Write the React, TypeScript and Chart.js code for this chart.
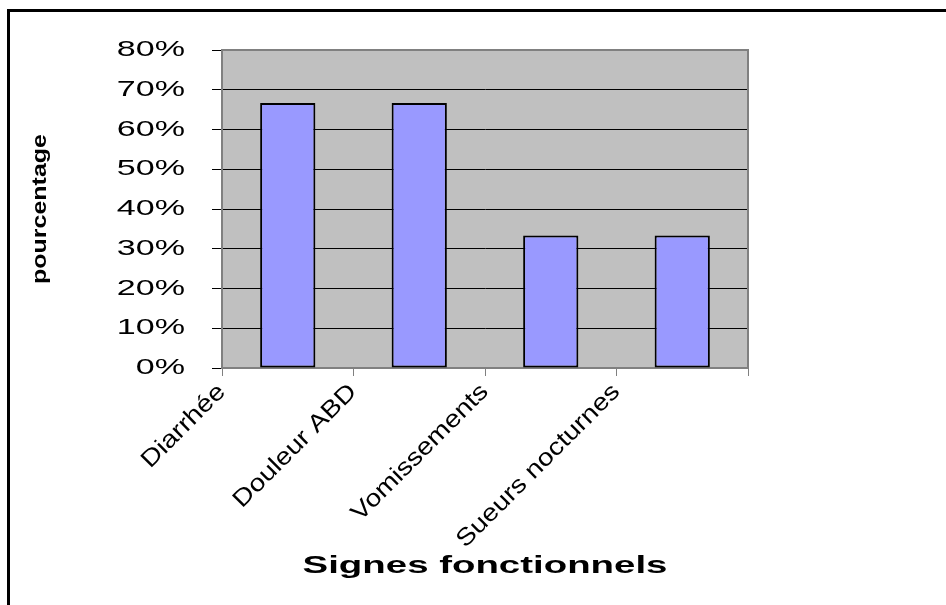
import React, { useEffect, useRef } from 'react';
import { Chart, registerables } from 'chart.js';

Chart.register(...registerables);

const categories = ['Diarrhée', 'Douleur ABD', 'Vomissements', 'Sueurs nocturnes'];
const percentages = [0.6667, 0.6667, 0.3333, 0.3333];
const yMin = 0;
const yMax = 0.8;
const yStep = 0.1;
const yAxisTitle = 'pourcentage';
const xAxisTitle = 'Signes fonctionnels';

const FONT = "'Liberation Sans', Arial, Helvetica, sans-serif";

// Excel-like wide text rendering: stretch glyphs along their baseline
function stretchText(ctx: CanvasRenderingContext2D) {
  const orig = ctx.fillText.bind(ctx);
  (ctx as any).fillText = (text: string, x: number, y: number) => {
    const m = ctx.getTransform();
    let sx: number;
    if (Math.abs(m.b) < 0.01) sx = ctx.font.includes('bold') ? 1.6 : 1.55;
    else if (Math.abs(m.a) < 0.01) sx = 1.19;
    else sx = 1.17;
    ctx.save();
    ctx.translate(x, y);
    ctx.scale(sx, 1);
    orig(text, 0, 0);
    ctx.restore();
  };
}

const plotAreaPlugin = {
  id: 'plotArea',
  beforeDraw(chart: any) {
    const { ctx, chartArea } = chart;
    ctx.save();
    ctx.fillStyle = '#C0C0C0';
    ctx.fillRect(chartArea.left, chartArea.top, chartArea.right - chartArea.left, chartArea.bottom - chartArea.top);
    ctx.restore();
  },
  beforeDatasetsDraw(chart: any) {
    const { ctx, chartArea } = chart;
    ctx.save();
    ctx.strokeStyle = '#808080';
    ctx.lineWidth = 2;
    ctx.strokeRect(chartArea.left, chartArea.top, chartArea.right - chartArea.left, chartArea.bottom - chartArea.top);
    ctx.restore();
  },
};

export default function App() {
  const ref = useRef<HTMLCanvasElement | null>(null);

  useEffect(() => {
    const canvas = ref.current;
    if (!canvas) return;
    const ctx = canvas.getContext('2d') as CanvasRenderingContext2D;
    stretchText(ctx);
    const chart = new Chart(canvas, {
      type: 'bar',
      data: {
        labels: categories,
        datasets: [
          {
            data: percentages,
            backgroundColor: '#9999FF',
            borderColor: '#000000',
            borderWidth: 2,
            borderSkipped: false,
            barPercentage: 0.42,
            categoryPercentage: 1,
          },
        ],
      },
      options: {
        responsive: false,
        animation: false,
        devicePixelRatio: 1,
        layout: { padding: { top: 42, right: 190, left: 20, bottom: 16 } },
        plugins: { legend: { display: false }, tooltip: { enabled: false } },
        scales: {
          x: {
            afterFit: (s: any) => {
              s.height = 213;
            },
            grid: {
              offset: true,
              drawOnChartArea: false,
              tickLength: 8,
              color: '#808080',
              lineWidth: 1,
            },
            border: { color: '#808080', width: 2 },
            ticks: {
              autoSkip: false,
              minRotation: 45,
              maxRotation: 45,
              labelOffset: -66,
              padding: 2,
              color: '#000',
              font: { family: FONT, size: 24 },
            },
            title: {
              display: true,
              text: xAxisTitle,
              color: '#000',
              padding: 0,
              font: { family: FONT, size: 24, weight: 'bold' },
            },
          },
          y: {
            min: yMin,
            max: yMax,
            afterFit: (s: any) => {
              s.width = 194;
            },
            grid: {
              color: '#000000',
              lineWidth: 1,
              tickLength: 10,
              tickColor: '#000000',
            },
            border: { color: '#808080', width: 2 },
            ticks: {
              stepSize: yStep,
              padding: 27,
              color: '#000',
              font: { family: FONT, size: 22 },
              callback: (v: any) => `${Math.round(Number(v) * 100)}%`,
            },
            title: {
              display: true,
              text: yAxisTitle,
              color: '#000',
              padding: 0,
              font: { family: FONT, size: 21, weight: 'bold' },
            },
          },
        },
      },
      plugins: [plotAreaPlugin],
    });
    return () => chart.destroy();
  }, []);

  return (
    <div style={{ position: 'relative', width: 930, height: 589 }}>
      <canvas ref={ref} width={930} height={589} style={{ display: 'block', width: 930, height: 589 }} />
      <div
        style={{
          position: 'fixed',
          left: 7,
          top: 9,
          right: 0,
          bottom: 0,
          borderTop: '3px solid #000',
          borderLeft: '3px solid #000',
          pointerEvents: 'none',
        }}
      />
    </div>
  );
}
